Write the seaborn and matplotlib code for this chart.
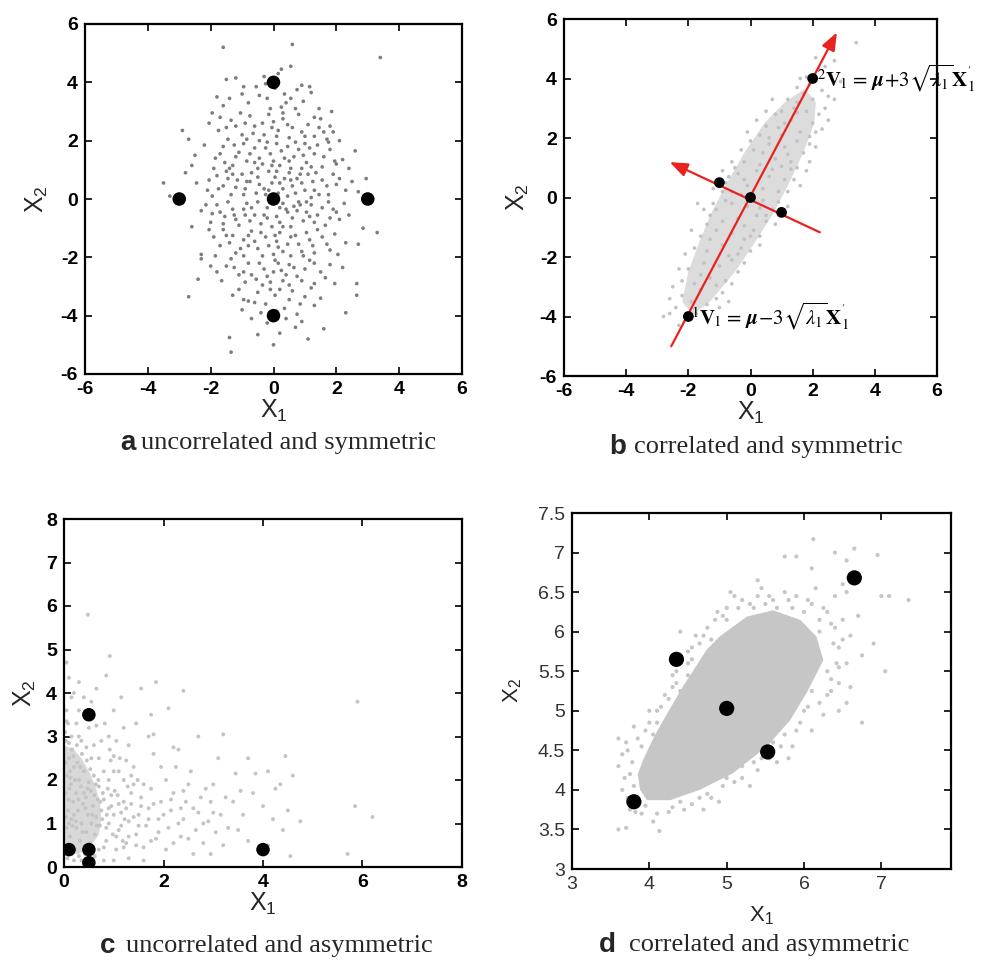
import matplotlib
matplotlib.use("Agg")
import matplotlib.pyplot as plt
import seaborn as sns
import pandas as pd

# ---------------- data ----------------
# panel a: uncorrelated, symmetric cloud (x1, x2)
a_cloud = [
    (-1.6,5.2),(0.6,5.3),(3.4,4.85),(-3.5,0.55),(-3.3,0.1),(-2.9,2.35),(-2.7,2.05),(-2.6,1.15),
    (-2.7,-3.35),(-1.4,-4.75),(-1.35,-5.25),(0.0,-5.0),(1.1,-4.8),(1.6,-4.45),(2.65,-2.9),
    (2.65,-3.3),(3.3,-1.15),(2.85,-1.0),(2.3,-3.9),(-2.4,-2.75),(-2.3,-1.9),
    (-1.5,4.1),(-1.2,4.15),(-0.3,4.2),(0.25,4.45),(0.55,4.55),(0.15,4.3),(-0.55,3.85),(0.9,3.9),
    (1.15,3.85),(-1.4,3.45),(-0.8,3.3),(0.35,3.6),(0.7,3.1),(-0.2,3.45),(0.4,3.3),(1.2,3.65),
    (-0.1,3.1),(0.75,3.75),(-1.0,3.6),(0.05,3.8),
    (-1.95,2.95),(-1.7,2.8),(-1.2,2.5),(-0.9,2.6),(-0.6,2.5),(-0.3,2.2),(0.0,2.65),(0.3,2.75),
    (0.6,2.45),(0.9,2.3),(1.3,2.8),(1.5,2.75),(1.8,2.5),(2.1,2.0),(-1.45,2.05),(-1.0,2.2),
    (-0.15,2.9),(0.5,2.1),(1.1,2.55),(1.6,2.3),(-2.05,2.6),(-0.45,2.0),(0.15,2.35),(1.3,2.15),
    (-0.75,2.85),
    (-2.2,1.85),(-1.85,1.4),(-1.6,1.8),(-1.3,1.15),(-1.1,1.6),(-0.85,1.3),(-0.6,1.75),(-0.35,1.2),
    (-0.1,1.55),(0.1,1.9),(0.35,1.4),(0.55,1.05),(0.8,1.7),(1.05,1.25),(1.3,1.55),(1.55,1.1),
    (1.8,1.7),(2.2,1.35),(2.4,1.05),(-1.55,1.25),(-0.95,1.9),(-0.25,1.75),(0.2,1.15),(0.65,1.45),
    (1.0,1.9),(1.4,1.85),(-0.5,1.05),(-1.9,1.05),(0.0,1.3),(0.9,1.05),(2.0,1.2),(-1.2,1.45),
    (-2.45,0.55),(-2.1,0.3),(-1.8,0.8),(-1.6,0.45),(-1.35,0.15),(-1.15,0.65),(-0.9,0.35),
    (-0.7,0.9),(-0.45,0.5),(-0.25,0.15),(0.05,0.75),(0.3,0.35),(0.5,0.9),(0.7,0.2),(0.9,0.55),
    (1.1,0.85),(1.3,0.3),(1.55,0.65),(1.75,0.15),(2.0,0.5),(2.3,0.3),(2.7,0.25),(-1.95,0.1),
    (-0.55,0.2),(0.2,0.55),(0.45,0.1),(1.2,0.05),(-1.0,0.85),(0.75,0.7),(1.9,0.85),(-0.15,0.95),
    (-1.5,0.95),(2.5,0.6),
    (-2.3,-0.4),(-2.0,-0.8),(-1.8,-0.2),(-1.55,-0.6),(-1.3,-0.35),(-1.1,-0.9),(-0.85,-0.15),
    (-0.6,-0.55),(-0.4,-0.85),(-0.2,-0.3),(0.1,-0.6),(0.3,-0.15),(0.55,-0.95),(0.75,-0.4),
    (0.95,-0.75),(1.2,-0.2),(1.4,-0.55),(1.65,-0.9),(1.9,-0.35),(2.1,-0.7),(2.4,-0.55),
    (-1.95,-0.5),(-0.05,-0.95),(0.45,-0.45),(1.05,-0.1),(1.8,-0.65),(-1.2,-0.7),(0.2,-0.3),
    (-0.7,-0.3),(0.85,-0.2),(2.25,-0.15),
    (-2.05,-1.05),(-1.7,-1.6),(-1.5,-1.25),(-1.2,-1.85),(-0.95,-1.4),(-0.7,-1.1),(-0.5,-1.7),
    (-0.25,-1.3),(0.0,-1.9),(0.2,-1.15),(0.45,-1.55),(0.7,-1.25),(0.9,-1.8),(1.15,-1.4),
    (1.4,-1.05),(1.7,-1.55),(1.95,-1.2),(2.3,-1.5),(-1.85,-1.95),(-0.35,-1.95),(0.55,-1.95),
    (1.3,-1.85),(-0.8,-1.6),(0.1,-1.45),(-1.4,-1.5),
    (-2.3,-2.05),(-1.8,-2.5),(-1.5,-2.3),(-1.1,-2.6),(-0.8,-2.2),(-0.55,-2.75),(-0.3,-2.4),
    (-0.1,-2.85),(0.15,-2.2),(0.4,-2.6),(0.65,-2.35),(0.9,-2.8),(1.15,-2.1),(1.5,-2.5),
    (1.8,-2.25),(2.2,-2.35),(-0.9,-2.85),(0.0,-2.5),(1.3,-2.9),(-1.35,-2.05),(0.5,-2.95),
    (-1.1,-3.1),(-0.8,-3.5),(-0.5,-3.2),(-0.25,-3.6),(0.05,-3.3),(0.35,-3.75),(0.6,-3.15),
    (0.85,-3.6),(1.2,-3.05),(1.5,-3.4),(-1.0,-3.8),(0.2,-3.1),(-0.4,-3.9),(1.0,-3.35),
    (-0.7,-4.1),(-0.2,-4.25),(0.2,-4.6),(0.4,-4.1),(0.7,-4.4),(0.9,-4.2),(-0.5,-4.65),
    (-1.75,2.35),(-1.35,2.7),(-1.05,2.95),(-0.65,2.25),(-0.35,2.6),(0.1,2.15),(0.45,2.55),
    (0.8,2.9),(1.0,2.15),(1.45,2.45),(1.7,2.05),(-0.05,2.45),(-1.25,1.85),(-0.75,1.55),
    (-0.45,1.4),(-0.05,1.15),(0.25,1.65),(0.5,1.3),(0.7,1.95),(0.95,1.5),(1.2,1.1),(1.6,1.45),
    (1.95,1.3),(-1.7,1.55),(-1.4,1.05),(-0.6,1.25),(-0.2,1.95),(0.45,1.8),(1.15,1.75),(1.75,1.95),
    (-2.05,0.65),(-1.75,0.35),(-1.45,0.7),(-1.2,0.4),(-0.95,0.15),(-0.75,0.6),(-0.5,0.75),
    (-0.3,0.35),(-0.05,0.55),(0.15,0.2),(0.35,0.7),(0.6,0.45),(0.85,0.85),(1.0,0.3),(1.25,0.6),
    (1.45,0.15),(1.7,0.45),(2.1,0.7),(-1.3,0.85),(-0.15,0.3),(0.55,0.65),(1.35,0.9),(-0.85,0.6),
    (0.1,0.95),
    (-2.15,-0.2),(-1.7,-0.45),(-1.45,-0.1),(-1.25,-0.55),(-0.95,-0.35),(-0.75,-0.75),(-0.5,-0.1),
    (-0.3,-0.55),(-0.05,-0.15),(0.2,-0.8),(0.4,-0.35),(0.6,-0.65),(0.8,-0.1),(1.05,-0.45),
    (1.3,-0.8),(1.55,-0.3),(1.75,-0.1),(2.0,-0.45),(-1.6,-0.85),(-0.2,-0.65),(0.65,-0.25),
    (1.15,-0.6),(-0.9,-0.55),(0.3,-0.95),
    (-1.9,-1.3),(-1.6,-1.05),(-1.3,-1.25),(-1.05,-1.7),(-0.8,-1.25),(-0.6,-1.45),(-0.4,-1.15),
    (-0.15,-1.6),(0.05,-1.25),(0.3,-1.8),(0.55,-1.3),(0.8,-1.55),(1.05,-1.15),(1.25,-1.6),
    (1.55,-1.3),(1.8,-1.75),(2.05,-1.9),(-0.95,-1.95),(0.15,-1.65),(0.95,-1.95),
    (-2.0,-2.3),(-1.65,-2.8),(-1.25,-2.35),(-0.95,-2.5),(-0.7,-2.6),(-0.45,-2.2),(-0.2,-2.65),
    (0.05,-2.1),(0.25,-2.45),(0.5,-2.25),(0.75,-2.65),(1.0,-2.4),(1.3,-2.2),(1.65,-2.7),
    (1.95,-2.9),(-0.35,-2.95),(0.3,-2.8),
    (-1.3,-3.3),(-0.6,-3.55),(-0.1,-3.1),(0.5,-3.45),(1.3,-3.65),(-0.95,-3.45),(0.1,-3.85),
    (0.75,-3.95),
    (-1.6,3.2),(-0.95,3.85),(-0.45,3.55),(0.55,3.45),(0.95,3.35),(1.45,3.1),(-0.25,3.95),
    (0.25,3.15),(-1.8,3.5),(1.85,3.0),
    (-1.5,2.45),(-0.85,2.05),(0.3,2.95),(1.9,2.3),(-2.5,1.5),(2.6,1.65),(-2.6,-0.95),
    (2.7,-1.55),(-2.8,0.9),(2.95,0.7),
]
a_marks = [(0, 0), (0, 4), (0, -4), (-3, 0), (3, 0)]

# panel b: correlated, symmetric cloud
b_core = [(-1.85,-3.95),(-1.3,-3.5),(-0.5,-2.5),(0.15,-1.5),(0.75,-0.5),(1.25,0.5),(1.7,1.5),
          (2.05,2.5),(2.1,3.2),(1.75,3.65),(1.1,3.2),(0.45,2.5),(-0.2,1.5),(-0.75,0.5),
          (-1.25,-0.5),(-1.65,-1.5),(-2.0,-2.5),(-2.2,-3.5)]
b_cloud = [
    (1.5,3.2),(1.7,3.5),(1.9,3.8),(2.2,4.3),(2.4,4.4),(1.4,3.0),(2.0,3.3),(2.3,3.6),(1.8,4.05),
    (2.6,4.1),(1.2,3.3),(3.4,5.2),(2.5,3.4),(1.0,2.9),(1.6,4.0),
    (0.5,2.4),(0.8,2.8),(1.0,2.1),(1.3,2.6),(1.6,2.2),(1.8,2.9),(2.0,2.5),(0.6,2.0),(1.1,2.5),
    (1.5,2.85),(2.1,2.2),(0.3,2.1),(1.9,2.05),(0.9,2.35),(2.2,2.8),
    (-0.2,1.2),(0.1,1.6),(0.3,1.1),(0.6,1.8),(0.8,1.3),(1.1,1.7),(1.3,1.2),(1.5,1.9),(1.7,1.5),
    (-0.5,1.0),(0.4,1.5),(0.0,1.9),(1.0,1.05),(1.2,1.45),(-0.3,1.6),(1.9,1.8),
    (-0.8,0.5),(-0.6,0.2),(-0.4,0.8),(-0.1,0.4),(0.2,0.9),(0.4,0.3),(0.6,0.7),(0.9,0.2),
    (1.1,0.6),(-0.9,0.9),(0.7,0.95),(-0.3,0.1),(1.3,0.95),(0.1,0.05),(-1.2,0.3),
    (-1.1,-0.4),(-0.9,-0.8),(-0.6,-0.2),(-0.4,-0.7),(-0.1,-0.3),(0.2,-0.6),(0.4,-0.1),
    (0.7,-0.4),(0.9,-0.15),(-0.2,-0.95),(-1.4,-0.9),(0.5,-0.8),(1.2,-0.3),(-0.8,-0.1),
    (-1.6,-1.3),(-1.4,-1.8),(-1.1,-1.1),(-0.9,-1.6),(-0.6,-1.2),(-0.4,-1.9),(-0.2,-1.4),
    (0.1,-1.1),(0.3,-1.6),(-1.3,-1.4),(-0.7,-1.95),(-1.8,-1.7),(0.0,-1.8),
    (-2.0,-2.4),(-1.8,-2.9),(-1.5,-2.2),(-1.3,-2.7),(-1.0,-2.3),(-0.8,-2.8),(-0.6,-2.1),
    (-0.4,-2.5),(-1.6,-2.6),(-1.1,-2.95),(-0.2,-2.2),(-2.2,-2.8),
    (-2.4,-3.7),(-2.2,-3.3),(-1.9,-3.5),(-1.6,-3.1),(-1.4,-3.6),(-1.1,-3.4),(-2.6,-3.9),
    (-1.75,-3.9),(-2.3,-4.3),(-0.9,-3.2),(-1.0,-3.7),
    (-1.2,-0.2),(-1.3,-0.6),(-1.5,-0.4),(1.2,0.2),(1.4,0.6),(1.5,1.0),(-0.9,0.2),(-0.7,0.7),
    (-0.6,1.2),(-0.1,2.2),(0.2,2.6),(1.9,1.2),(2.1,1.7),(2.3,2.3),(2.4,3.0),(-1.9,-1.1),
    (-2.1,-1.9),(-2.3,-2.4),(-2.5,-3.0),(-0.6,-2.9),(-0.3,-1.7),(0.0,-1.3),(0.5,-0.6),
    (0.3,-1.3),(-0.7,-3.5),(-2.6,-3.4),(-2.8,-4.0),(0.8,-0.9),(1.6,0.4),(1.8,0.9),(2.5,2.6),
    (2.7,3.3),(0.5,2.9),(0.7,3.3),(2.9,3.9),(2.1,4.7),(-1.7,-0.2),(-1.0,0.6),(-0.2,0.6),
    (0.3,-0.35),(1.5,3.7),(2.7,4.6),
]
b_marks = [(0, 0), (2, 4), (-2, -4), (-1, 0.5), (1, -0.5)]
b_major_arrow = [(-2.55, -5.0), (2.78, 5.55)]   # (tail, head)
b_minor_arrow = [(2.23, -1.17), (-2.6, 1.19)]
b_labels = [r"$^{2}\mathbf{V}_{\!1}\,=\,\boldsymbol{\mu}\!+\!3\sqrt{\lambda_1}\mathbf{X}_{1}^{'}$",
            r"$^{1}\mathbf{V}_{\!1}\,=\,\boldsymbol{\mu}\!-\!3\sqrt{\lambda_1}\mathbf{X}_{1}^{'}$"]
b_label_pos = [(2.15, 4.0), (-1.9, -4.0)]

# panel c: uncorrelated, asymmetric cloud
c_core = [(0.0,0.3),(0.3,0.3),(0.55,0.5),(0.7,0.75),(0.75,1.1),(0.72,1.5),(0.62,1.9),
          (0.5,2.2),(0.35,2.5),(0.2,2.7),(0.0,2.8)]
c_cloud = [
    (0.02,0.5),(0.05,0.9),(0.08,1.3),(0.03,1.7),(0.06,2.1),(0.1,2.5),(0.04,2.9),(0.12,0.7),
    (0.15,1.1),(0.18,1.5),(0.14,1.9),(0.2,2.3),(0.16,2.7),(0.22,0.4),(0.25,0.9),(0.28,1.3),
    (0.24,1.7),(0.3,2.0),(0.27,2.4),(0.32,0.6),(0.35,1.0),(0.38,1.45),(0.34,1.85),(0.4,2.2),
    (0.36,2.6),(0.42,0.3),(0.45,0.8),(0.48,1.2),(0.44,1.6),(0.5,1.95),(0.46,2.45),(0.52,0.55),
    (0.55,1.0),(0.58,1.4),(0.54,1.75),(0.6,2.1),(0.62,0.75),(0.65,1.15),(0.68,1.55),(0.64,1.9),
    (0.7,0.4),(0.72,0.95),(0.75,1.3),(0.78,1.7),(0.02,3.1),(0.08,3.3),(0.05,3.6),(0.15,3.0),
    (0.12,2.2),(0.1,1.0),(0.07,0.2),(0.2,0.15),(0.3,0.25),(0.2,1.2),(0.22,2.0),(0.26,2.8),
    (0.3,3.0),(0.35,2.9),(0.4,1.7),(0.1,4.35),(0.05,4.7),(0.48,5.8),(0.2,4.0),(0.3,3.6),
    (0.15,3.9),(0.4,3.9),(0.55,3.8),(0.65,4.1),(0.3,4.25),(0.5,3.2),(0.6,2.8),(0.7,2.5),
    (0.65,3.25),(0.75,2.9),(0.04,1.15),(0.09,1.55),(0.13,2.05),(0.19,2.55),(0.24,1.05),
    (0.29,1.55),(0.33,2.3),(0.37,0.8),(0.43,1.35),(0.47,1.8),(0.53,2.25),(0.57,1.2),
    (0.61,1.65),(0.66,0.95),(0.69,2.0),(0.73,1.5),(0.77,1.1),(0.03,2.4),(0.11,1.8),(0.17,0.95),
    (0.85,0.6),(0.9,1.0),(0.95,1.4),(0.88,1.8),(1.0,2.2),(0.92,2.7),(1.05,0.4),(1.1,0.85),
    (1.15,1.25),(1.08,1.65),(1.2,2.0),(1.12,2.5),(1.25,0.55),(1.3,1.05),(1.35,1.45),(1.28,1.85),
    (1.4,2.3),(1.45,0.75),(1.5,1.2),(1.55,1.6),(1.48,2.0),(1.6,0.45),(1.65,0.95),(1.7,1.35),
    (1.75,1.8),(1.8,2.6),(1.85,0.65),(1.9,1.1),(1.95,1.5),(0.9,3.0),(1.0,3.6),(0.85,4.4),
    (0.92,4.85),(1.2,3.2),(1.3,2.8),(1.45,3.3),(1.55,4.1),(1.7,3.0),(1.8,3.05),(1.85,4.25),
    (1.75,3.5),(1.0,0.15),(1.3,0.2),(1.6,0.15),(1.2,1.5),(1.4,1.9),(0.8,2.2),(0.82,3.3),
    (1.05,2.9),(1.15,3.9),(0.86,1.2),(0.98,0.75),(1.02,1.75),(1.18,0.6),(1.22,1.1),(0.94,2.45),
    (2.05,0.4),(2.1,0.9),(2.15,1.3),(2.2,1.7),(2.25,2.3),(2.05,2.0),(2.35,0.7),(2.4,1.1),
    (2.45,1.5),(2.5,1.9),(2.3,2.7),(2.6,0.3),(2.65,0.85),(2.7,1.25),(2.75,1.6),(2.55,2.2),
    (2.8,0.55),(2.9,1.05),(2.95,1.5),(3.0,1.9),(3.05,0.8),(3.15,1.2),(3.2,0.5),(3.25,1.6),
    (3.3,0.9),(3.1,2.5),(3.2,3.05),(2.7,3.0),(2.4,4.05),(2.1,3.65),(2.2,2.75),(3.45,2.15),
    (3.55,1.75),(3.6,1.2),(3.7,2.5),(3.8,1.7),(3.85,2.15),(3.7,0.6),(4.0,1.4),(4.1,2.2),
    (4.2,1.1),(4.25,1.8),(4.35,1.9),(4.4,0.85),(4.45,2.55),(4.5,1.3),(4.55,0.25),(4.6,2.1),
    (4.75,1.05),(3.4,1.5),(3.5,0.85),(2.95,0.3),(4.1,0.5),(2.35,1.35),
    (5.7,0.3),(5.85,1.4),(5.9,3.8),(6.2,1.15),
    (0.8,0.45),(0.85,0.9),(0.9,1.35),(0.95,1.65),(1.0,1.2),(1.05,0.7),(1.1,1.45),(1.15,0.95),
    (1.2,0.45),(1.25,1.35),(1.3,0.7),(1.35,1.7),(1.4,1.15),(1.45,0.5),(1.5,0.95),(1.55,1.4),
    (1.6,1.9),(0.05,3.35),(0.1,2.85),(0.25,3.3),(0.45,2.75),(0.55,2.5),(0.8,0.15),(0.62,0.25),
    (0.35,0.15),(0.15,0.3),(0.7,1.85),(0.8,1.55),(0.9,2.0),(1.0,2.55),(1.1,2.2),(1.25,2.45),
    (1.35,2.1),(1.7,1.1),(1.75,0.6),(1.8,1.45),(1.9,0.8),(2.0,1.2),(2.2,0.55),(2.3,1.0),
    (2.4,1.75),(2.6,1.35),(2.8,1.0),(2.85,1.8),(3.0,1.25),(2.15,1.55),(2.5,0.65),(1.95,2.3),
]
c_marks = [(0.1, 0.4), (0.5, 0.4), (0.5, 0.1), (0.5, 3.5), (4.0, 0.4)]

# panel d: correlated, asymmetric cloud
d_core = [(3.97,3.87),(3.88,4.0),(3.85,4.2),(3.92,4.38),(4.05,4.65),(4.18,4.88),(4.43,5.3),
          (4.74,5.77),(4.91,5.94),(5.26,6.19),(5.6,6.27),(5.95,6.15),(6.16,5.94),(6.25,5.64),
          (6.03,5.22),(5.82,4.88),(5.52,4.55),(5.08,4.21),(4.65,4.0),(4.27,3.87)]
d_cloud = [
    (3.6,3.5),(3.7,3.52),(4.13,3.48),(4.05,3.6),(3.75,3.75),(3.65,4.0),(3.6,4.3),(3.65,4.45),
    (3.7,4.6),(3.6,4.65),(3.75,4.2),(3.95,4.75),(4.0,5.0),(4.15,5.05),(4.3,5.3),(4.4,5.25),
    (4.55,5.8),(4.6,5.95),(4.75,6.05),(4.85,6.15),(4.88,6.25),(5.0,6.3),(5.1,6.45),(5.3,6.35),
    (5.45,6.55),(5.6,6.4),(5.75,6.5),(5.9,6.45),(6.1,6.35),(6.15,6.55),(6.3,6.25),(6.4,6.05),
    (6.5,6.15),(6.55,6.5),(6.55,6.9),(6.65,7.05),(6.95,6.97),(6.4,7.0),(6.1,6.8),(5.9,6.95),
    (6.4,6.45),(7.0,6.45),(7.1,6.45),(7.35,6.4),(7.05,5.5),(6.9,5.85),(6.75,5.7),(6.6,5.3),
    (6.55,5.6),(6.75,4.85),(6.45,5.0),(6.25,4.95),(6.1,4.75),(5.85,4.55),(5.8,4.4),(5.65,4.35),
    (5.4,4.25),(5.3,4.05),(5.1,4.1),(4.9,3.85),(4.7,3.75),(4.45,3.75),(4.25,3.72),(5.75,6.95),
    (5.2,6.1),(4.4,6.0),(4.6,5.45),(6.35,5.4),(6.0,5.0),(5.5,4.6),(5.0,4.3),(6.5,6.6),(5.4,6.65),
    (6.12,7.17),(3.9,3.7),(4.0,4.85),(4.3,5.45),(4.5,5.6),(5.05,6.5),(5.55,6.45),(6.2,6.15),
    (6.45,5.8),(6.3,5.2),(5.9,4.75),(5.55,4.4),(5.2,4.15),(4.8,3.9),
    (3.72,3.9),(3.78,4.35),(3.85,4.65),(4.05,4.7),(4.1,4.85),(4.25,5.15),(4.35,5.35),
    (4.55,5.65),(4.65,5.85),(4.8,5.9),(5.0,6.15),(5.15,6.3),(5.35,6.3),(5.5,6.35),(5.65,6.3),
    (5.85,6.3),(6.0,6.25),(6.2,6.0),(6.38,5.85),(6.42,5.6),(6.3,5.5),(6.1,5.25),(6.05,5.05),
    (5.8,4.95),(5.75,4.7),(5.6,4.6),(5.45,4.4),(5.2,4.3),(4.95,4.05),(4.65,3.9),(4.4,3.85),
    (4.1,3.7),(3.95,3.8),(3.8,4.05),(4.5,5.45),(6.45,5.35),(6.55,5.1),(6.6,5.95),(6.7,6.2),
    (3.68,4.15),(3.72,4.5),(3.8,4.8),(3.9,4.55),(4.1,5.0),(4.2,5.2),(4.35,5.5),(4.5,5.75),
    (4.7,5.95),(4.95,6.2),(5.2,6.4),(5.4,6.45),(5.8,6.4),(6.05,6.4),(6.25,6.3),(6.35,6.1),
    (6.5,5.9),(6.45,5.55),(6.35,5.25),(6.2,5.1),(5.95,4.85),(5.7,4.55),(5.35,4.35),(5.0,4.15),
    (4.75,3.95),(4.55,3.82),(4.3,3.78),(3.82,3.72),
]
d_marks = [(3.8, 3.85), (4.35, 5.65), (5.0, 5.03), (5.53, 4.48), (6.65, 6.68)]

captions = [("a", "uncorrelated and symmetric"), ("b", "correlated and symmetric"),
            ("c", "uncorrelated and asymmetric"), ("d", "correlated and asymmetric")]

# ---------------- style ----------------
sns.set_theme(style="ticks")
plt.rcParams["font.family"] = ["Liberation Sans", "DejaVu Sans"]
plt.rcParams["mathtext.fontset"] = "stix"
plt.rcParams["axes.unicode_minus"] = False

W, H = 1002, 961
fig = plt.figure(figsize=(W / 100, H / 100), dpi=100)

def px_rect(l, t, r, b):
    return [l / W, 1 - b / H, (r - l) / W, (b - t) / H]

ax_a = fig.add_axes(px_rect(85, 24, 462, 374))
ax_b = fig.add_axes(px_rect(564, 19, 937, 376))
ax_c = fig.add_axes(px_rect(64, 519, 462, 867))
ax_d = fig.add_axes(px_rect(572, 513, 951, 869))

def to_df(pts):
    return pd.DataFrame(pts, columns=["x1", "x2"])

def style_axes(ax, xlim, ylim, xticks, yticks, bold=True, fs=14, lab_fs=18,
               xpad=0, ypad=2, ylabels=None):
    ax.set_xlim(*xlim)
    ax.set_ylim(*ylim)
    ax.set_xticks(xticks)
    ax.set_yticks(yticks)
    if ylabels is not None:
        ax.set_yticklabels(ylabels)
    w = "bold" if bold else "normal"
    ax.tick_params(direction="in", top=True, right=True, length=5, width=1.2,
                   labelsize=fs, pad=5, colors="black")
    for lbl in ax.get_xticklabels() + ax.get_yticklabels():
        lbl.set_fontweight(w)
    for s in ax.spines.values():
        s.set_linewidth(1.6)
        s.set_color("black")
        s.set_visible(True)
    ax.set_xlabel(r"$\mathregular{X_1}$", fontsize=lab_fs, labelpad=xpad)
    ax.set_ylabel(r"$\mathregular{X_2}$", fontsize=lab_fs, labelpad=ypad)
    ax.set_facecolor("white")

# panel a
sns.scatterplot(data=to_df(a_cloud), x="x1", y="x2", ax=ax_a, s=7, color="#7d7d7d",
                edgecolor="none", linewidth=0)
sns.scatterplot(data=to_df(a_marks), x="x1", y="x2", ax=ax_a, s=95, color="black",
                edgecolor="none", linewidth=0, zorder=5)
style_axes(ax_a, (-6, 6), (-6, 6), range(-6, 7, 2), range(-6, 7, 2), ypad=8)

# panel b
bc = to_df(b_core)
ax_b.fill(bc["x1"], bc["x2"], color="#dcdcdc", lw=0, zorder=1)
sns.scatterplot(data=to_df(b_cloud), x="x1", y="x2", ax=ax_b, s=7, color="#c2c2c2",
                edgecolor="none", linewidth=0, zorder=2)
for tail, head in (b_major_arrow, b_minor_arrow):
    ax_b.annotate("", xy=head, xytext=tail,
                  arrowprops=dict(arrowstyle="-|>,head_length=0.9,head_width=0.35",
                                  color="#e8231f", lw=1.6, shrinkA=0, shrinkB=0), zorder=3)
sns.scatterplot(data=to_df(b_marks), x="x1", y="x2", ax=ax_b, s=60, color="black",
                edgecolor="none", linewidth=0, zorder=5)
for txt, (tx, ty) in zip(b_labels, b_label_pos):
    ax_b.text(tx, ty, txt, fontsize=15, ha="left", va="center", color="black",
              clip_on=False, zorder=6)
style_axes(ax_b, (-6, 6), (-6, 6), range(-6, 7, 2), range(-6, 7, 2), ypad=6)

# panel c
cc = to_df(c_core)
ax_c.fill(cc["x1"], cc["x2"], color="#d8d8d8", lw=0, zorder=1)
sns.scatterplot(data=to_df(c_cloud), x="x1", y="x2", ax=ax_c, s=8, color="#c4c4c4",
                edgecolor="none", linewidth=0, zorder=2)
sns.scatterplot(data=to_df(c_marks), x="x1", y="x2", ax=ax_c, s=95, color="black",
                edgecolor="none", linewidth=0, zorder=5)
style_axes(ax_c, (0, 8), (0, 8), range(0, 9, 2), range(0, 9, 1), ypad=6)

# panel d
dc = to_df(d_core)
ax_d.fill(dc["x1"], dc["x2"], color="#c6c6c6", lw=0, zorder=1)
sns.scatterplot(data=to_df(d_cloud), x="x1", y="x2", ax=ax_d, s=9, color="#c6c6c6",
                edgecolor="none", linewidth=0, zorder=2)
sns.scatterplot(data=to_df(d_marks), x="x1", y="x2", ax=ax_d, s=120, color="black",
                marker="o", edgecolor="none", linewidth=0, zorder=5)
d_yt = [3, 3.5, 4, 4.5, 5, 5.5, 6, 6.5, 7, 7.5]
style_axes(ax_d, (3, 7.9), (3, 7.5), [3, 4, 5, 6, 7], d_yt, bold=False, fs=14, lab_fs=16,
           xpad=8, ypad=10, ylabels=[f"{v:g}" for v in d_yt])
for lbl in ax_d.get_xticklabels() + ax_d.get_yticklabels():
    lbl.set_color("#333333")

# captions
cap_pos = [(120, 141, 443), (609, 634, 447), (100, 126, 946), (599, 629, 945)]
for (letter, text), (lx, tx, cy) in zip(captions, cap_pos):
    fig.text(lx / W, 1 - cy / H, letter, fontsize=20, fontweight="bold",
             family=["Liberation Sans", "DejaVu Sans"], ha="left", va="center")
    fig.text(tx / W, 1 - cy / H, text, fontsize=19,
             family=["Liberation Serif", "DejaVu Serif"], ha="left", va="center")

fig.savefig("out.png", dpi=100, facecolor="white")
